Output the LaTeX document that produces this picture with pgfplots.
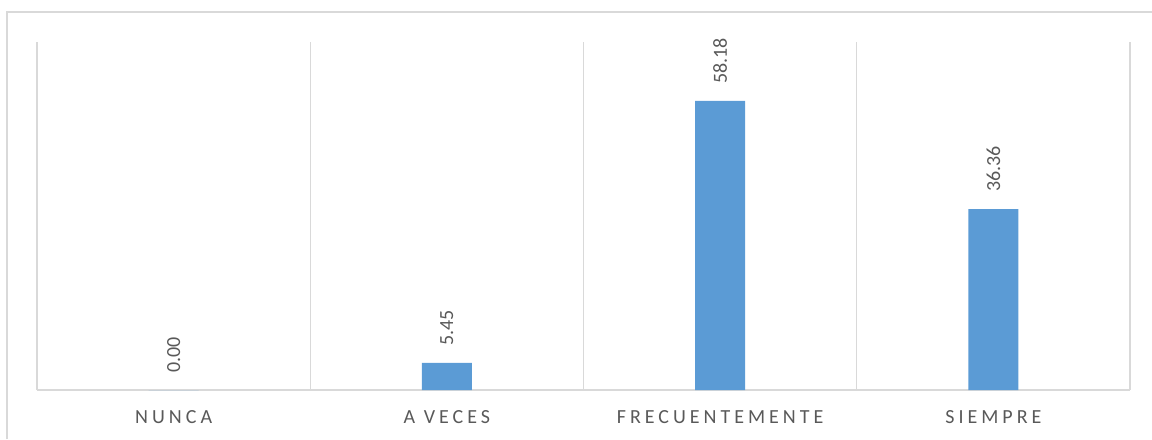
\documentclass[border=0pt]{standalone}
\usepackage{fontspec}
\setmainfont{Carlito}
\newfontfamily\catfont[LetterSpace=20]{Carlito}
\usepackage{pgfplots}
\pgfplotsset{compat=1.18}
\definecolor{barblue}{HTML}{5B9BD5}
\definecolor{gridgray}{HTML}{D9D9D9}
\definecolor{labgray}{HTML}{595959}
\begin{document}
\begin{tikzpicture}
\useasboundingbox (0,0) rectangle (864pt,329.25pt);
\draw[gridgray, line width=1.1pt] (5.25pt,0) -- (5.25pt,320.25pt) -- (864pt,320.25pt);
\begin{axis}[
  at={(27.75pt,36.75pt)}, anchor=south west,
  scale only axis, width=819.75pt, height=261pt,
  xmin=-0.5, xmax=3.5, ymin=0, ymax=70,
  hide y axis, axis x line*=bottom,
  axis line style={gridgray, line width=1.1pt},
  xtick={0,1,2,3},
  xticklabels={NUNCA, A VECES, FRECUENTEMENTE, SIEMPRE},
  major tick length=0pt,
  xticklabel style={anchor=center, yshift=-20.25pt, font=\fontsize{15pt}{18pt}\catfont, text=labgray},
  extra x ticks={-0.5,0.5,1.5,2.5,3.5},
  extra x tick labels={},
  extra x tick style={grid=major, major grid style={gridgray, line width=1.1pt}},
  ybar, bar width=37.5pt,
  nodes near coords,
  /pgf/number format/assume math mode=true,
  /pgf/number format/.cd, fixed, fixed zerofill, precision=2, /pgfplots/.cd,
  nodes near coords style={rotate=90, anchor=west, inner xsep=12.75pt, inner ysep=0pt,
    font=\fontsize{15pt}{18pt}\selectfont, text=labgray},
  clip=false,
]
\addplot[fill=barblue, draw=none] coordinates {(0,0.00) (1,5.45) (2,58.18) (3,36.36)};
\end{axis}
\end{tikzpicture}
\end{document}
